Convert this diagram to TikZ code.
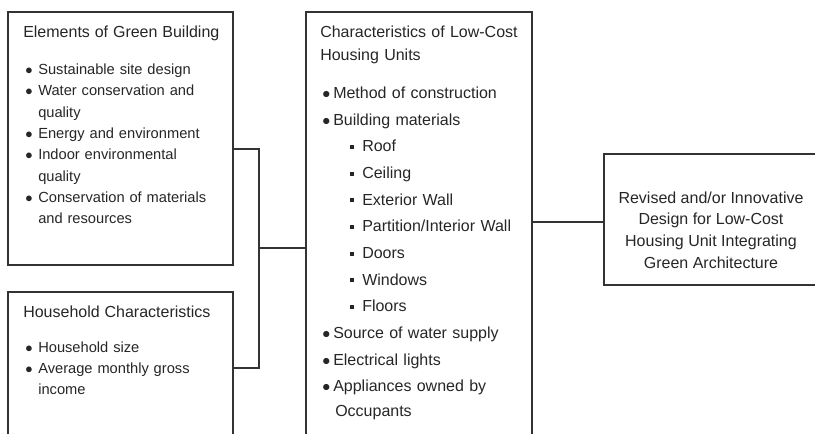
\documentclass[tikz,border=0pt]{standalone}
\usepackage{fontspec}
\setmainfont{Liberation Sans}
\usetikzlibrary{fit}

\newcommand{\itm}{\hspace*{1.5pt}\makebox[9.75pt][l]{$\bullet$}}
\newcommand{\cont}{\hspace*{11.25pt}}
\newcommand{\mitm}{\hspace*{1.5pt}\makebox[8.25pt][l]{$\bullet$}}
\newcommand{\sitm}{\hspace*{22.5pt}\makebox[9pt][l]{\raisebox{2.2pt}{\rule{3pt}{3pt}}}}

\begin{document}
\begin{tikzpicture}[x=0.75pt, y=-0.75pt,
    box/.style={draw=black!80, line width=1.1pt, inner sep=0pt},
    txt/.style={anchor=base west, inner sep=0pt, align=left, text=black!85},
    link/.style={draw=black!80, line width=1.1pt}]
  \useasboundingbox (0,0) rectangle (815,433);
  \clip (0,0) rectangle (815,433);

  \node[box, fit={(8,12) (233,265)}] (green) {};
  \node[box, fit={(8,292) (233,450)}] (house) {};
  \node[box, fit={(306,12) (532,450)}] (lowcost) {};
  \node[box, fit={(604,154) (818,285)}] (design) {};

  \node[txt, text width=160pt, font=\fontsize{11}{16}\selectfont] (greentext) at (23,37.5)
    {{\fontsize{12}{14}\selectfont Elements of Green Building}\\[11.75pt]
     \itm Sustainable site design\\
     \itm Water conservation and\\
     \cont quality\\
     \itm Energy and environment\\
     \itm Indoor environmental\\
     \cont quality\\
     \itm Conservation of materials\\
     \cont and resources};
  \node[txt, text width=160pt, font=\fontsize{11}{15.75}\selectfont] (housetext) at (23,317.5)
    {{\fontsize{12}{14}\selectfont Household Characteristics}\\[10.5pt]
     \itm Household size\\
     \itm Average monthly gross\\
     \cont income};
  \node[txt, text width=165pt, font=\fontsize{12}{20}\selectfont] (lowcosttext) at (320,37.5)
    {Characteristics of Low-Cost\\[-2.75pt]
     Housing Units\\[8.5pt]
     \mitm Method of construction\\
     \mitm Building materials\\
     \sitm Roof\\
     \sitm Ceiling\\
     \sitm Exterior Wall\\
     \sitm Partition/Interior Wall\\
     \sitm Doors\\
     \sitm Windows\\
     \sitm Floors\\
     \mitm Source of water supply\\
     \mitm Electrical lights\\
     \mitm Appliances owned by\\[-1.2pt]
     \cont Occupants};
  \node[inner sep=0pt, align=center, text=black!85, font=\fontsize{12}{16.25}\selectfont] (designtext) at (711,230)
    {Revised and/or Innovative\\
     Design for Low-Cost\\
     Housing Unit Integrating\\
     Green Architecture};

  \coordinate (joint) at (259,248);
  \draw[link] (green.east |- 0,149) -| (joint) |- (house.east |- 0,368);
  \draw[link] (joint) -- (lowcost.west |- joint);
  \draw[link] (lowcost.east |- 0,222) -- (design.west |- 0,222);
\end{tikzpicture}
\end{document}
